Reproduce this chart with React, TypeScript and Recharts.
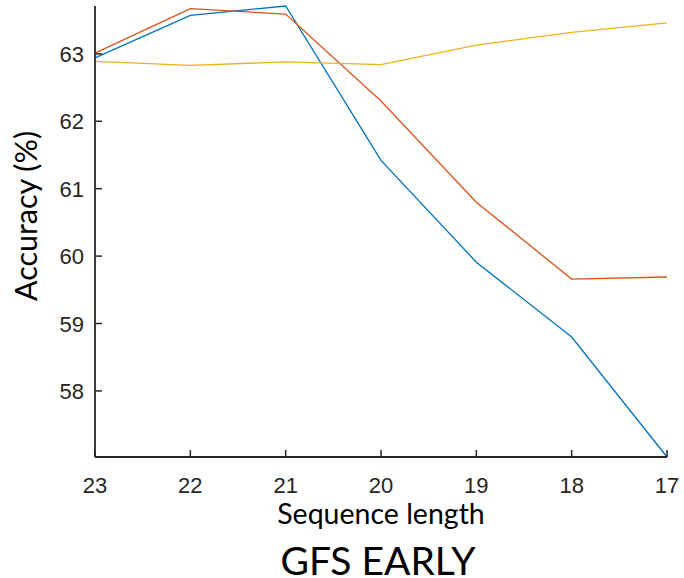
import { LineChart, Line, XAxis, YAxis, Label } from "recharts";

// values
const seqLengths = [23, 22, 21, 20, 19, 18, 17];
const blueAcc = [62.94, 63.57, 63.71, 61.42, 59.91, 58.8, 57.02];
const orangeAcc = [63.01, 63.67, 63.59, 62.3, 60.8, 59.66, 59.69];
const yellowAcc = [62.89, 62.83, 62.88, 62.84, 63.13, 63.32, 63.46];
const xTicks = [23, 22, 21, 20, 19, 18, 17];
const yTicks = [58, 59, 60, 61, 62, 63];

const data = seqLengths.map((s, i) => ({
  seq: s,
  blue: blueAcc[i],
  orange: orangeAcc[i],
  yellow: yellowAcc[i],
}));

const AXIS = "#262626";
const tickFamily = "'Liberation Sans', Arial, sans-serif";
const labelFont = "Lato, 'Open Sans', sans-serif";

// MATLAB-style ticks: short marks pointing into the plot box
const BottomTick = ({ x, y, payload }: any) => (
  <g>
    <line x1={x} x2={x} y1={y} y2={y - 7} stroke={AXIS} strokeWidth={1.5} />
    <text x={x} y={y + 36} textAnchor="middle" fontSize={22} fill={AXIS} fontFamily={tickFamily}>
      {payload.value}
    </text>
  </g>
);

const TopTick = ({ x, y }: any) => (
  <line x1={x} x2={x} y1={y} y2={y + 7} stroke={AXIS} strokeWidth={1.5} />
);

const LeftTick = ({ x, y, payload }: any) => (
  <g>
    <line x1={x} x2={x + 7} y1={y} y2={y} stroke={AXIS} strokeWidth={1.5} />
    <text x={x - 11} y={y + 8} textAnchor="end" fontSize={22} fill={AXIS} fontFamily={tickFamily}>
      {payload.value}
    </text>
  </g>
);

const RightTick = ({ x, y }: any) => (
  <line x1={x} x2={x - 7} y1={y} y2={y} stroke={AXIS} strokeWidth={1.5} />
);

export default function App() {
  return (
    <div style={{ position: "absolute", left: 0, top: 0, width: 684, height: 578, background: "#fff", overflow: "hidden" }}>
      <LineChart
        width={684}
        height={578}
        data={data}
        margin={{ top: 6, right: 17, left: 0, bottom: 0 }}
      >
        <XAxis
          xAxisId="bottom"
          dataKey="seq"
          type="number"
          domain={[17, 23]}
          reversed
          ticks={xTicks}
          orientation="bottom"
          height={121}
          tickSize={0}
          tickMargin={0}
          tickLine={false}
          tick={<BottomTick />}
          stroke={AXIS}
          strokeWidth={1.8}
          interval={0}
        >
          <Label
            value="Sequence length"
            position="insideTop"
            offset={47}
            style={{ fontSize: 28.5, fill: "#000", fontFamily: labelFont }}
          />
        </XAxis>
        <XAxis
          xAxisId="top"
          dataKey="seq"
          type="number"
          domain={[17, 23]}
          reversed
          ticks={xTicks}
          orientation="top"
          height={0}
          tickSize={0}
          tickMargin={0}
          tickLine={false}
          tick={<TopTick />}
          stroke={AXIS}
          strokeWidth={1.8}
          interval={0}
        />
        <YAxis
          yAxisId="left"
          type="number"
          domain={[57.02, 63.71]}
          ticks={yTicks}
          width={95}
          tickSize={0}
          tickMargin={0}
          tickLine={false}
          tick={<LeftTick />}
          stroke={AXIS}
          strokeWidth={1.8}
          interval={0}
        >
          <Label
            content={() => (
              <text
                x={25}
                y={216}
                transform="rotate(-90, 25, 216)"
                textAnchor="middle"
                dominantBaseline="central"
                style={{ fontSize: 30.5, fill: "#000", fontFamily: labelFont }}
              >
                Accuracy (%)
              </text>
            )}
          />
        </YAxis>
        <YAxis
          yAxisId="right"
          type="number"
          orientation="right"
          domain={[57.02, 63.71]}
          ticks={yTicks}
          width={0}
          tickSize={0}
          tickMargin={0}
          tickLine={false}
          tick={<RightTick />}
          stroke={AXIS}
          strokeWidth={1.8}
          interval={0}
        />
        <Line
          xAxisId="bottom"
          yAxisId="left"
          dataKey="blue"
          stroke="#0072BD"
          strokeWidth={1.3}
          dot={false}
          isAnimationActive={false}
        />
        <Line
          xAxisId="bottom"
          yAxisId="left"
          dataKey="orange"
          stroke="#D95319"
          strokeWidth={1.3}
          dot={false}
          isAnimationActive={false}
        />
        <Line
          xAxisId="bottom"
          yAxisId="left"
          dataKey="yellow"
          stroke="#EDB120"
          strokeWidth={1.3}
          dot={false}
          isAnimationActive={false}
        />
      </LineChart>
      <div
        style={{
          position: "absolute",
          left: 0,
          width: 756,
          top: 542,
          textAlign: "center",
          fontFamily: labelFont,
          fontSize: 39,
          lineHeight: "36px",
          color: "#000",
        }}
      >
        GFS EARLY
      </div>
    </div>
  );
}
